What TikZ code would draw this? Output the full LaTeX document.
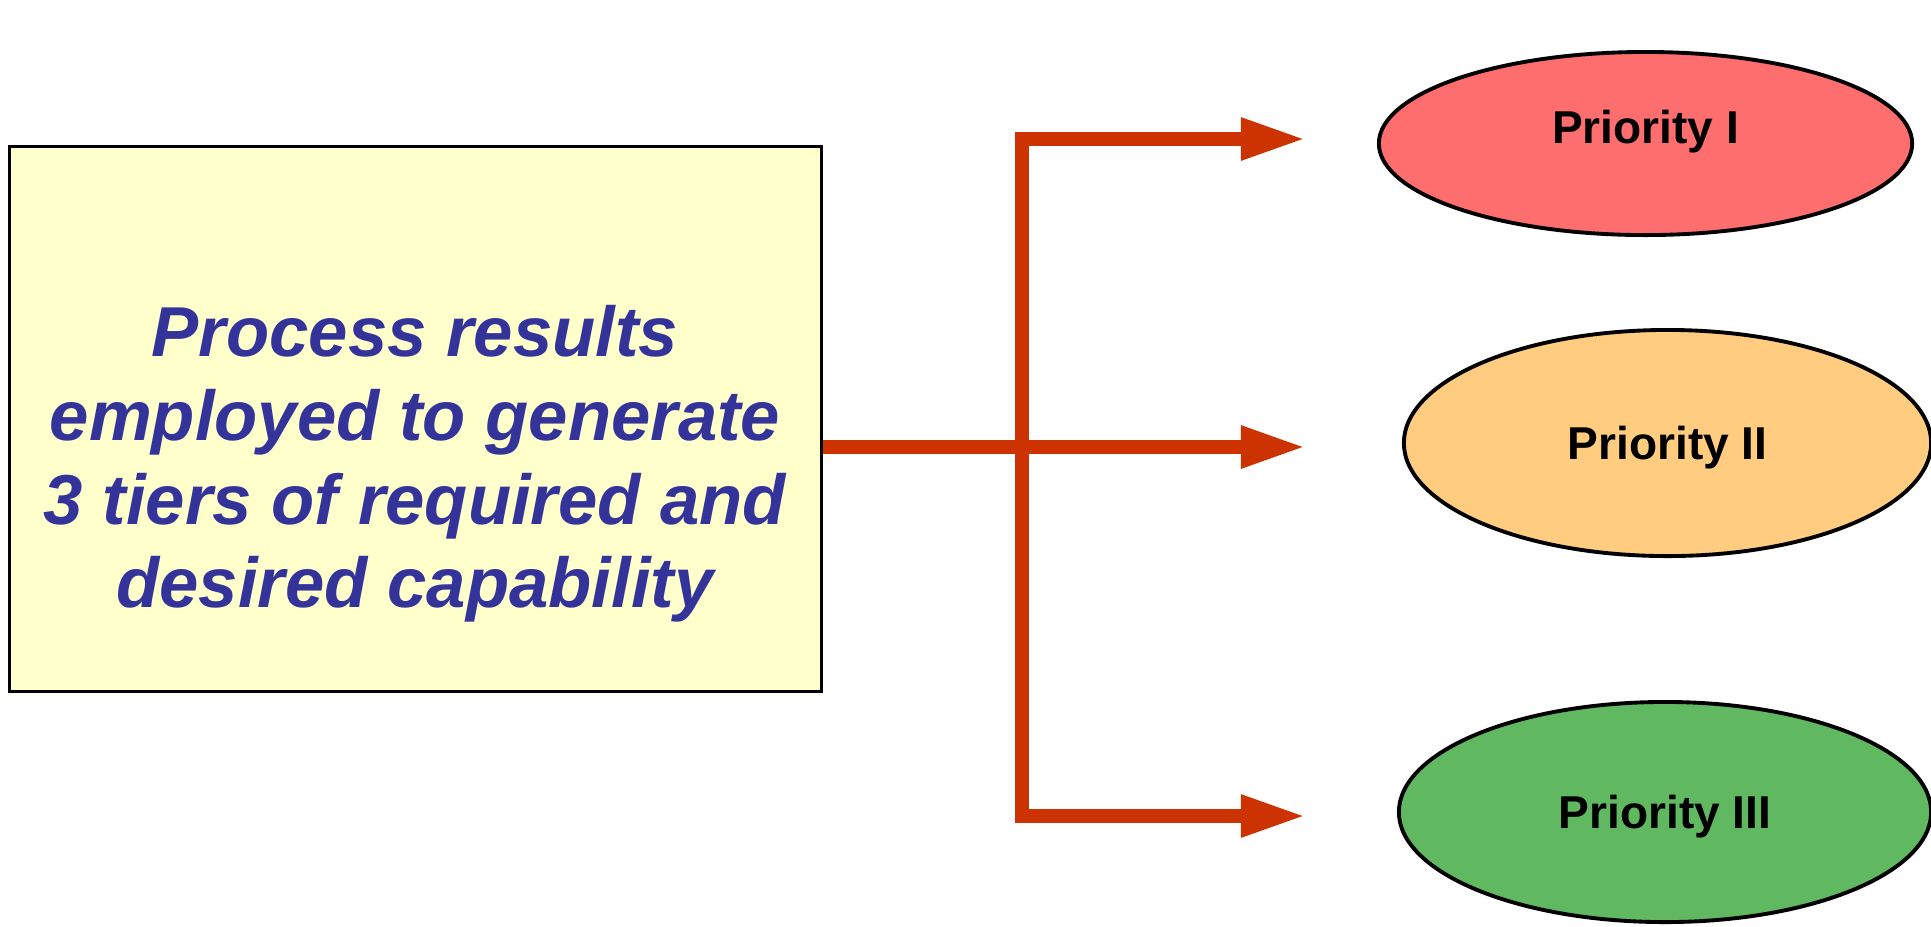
\documentclass[tikz,border=0pt]{standalone}
\usepackage{fontspec}
\setmainfont{Liberation Sans}
\usetikzlibrary{shapes.geometric, arrows.meta, calc}
\definecolor{procyellow}{HTML}{FFFFCC}
\definecolor{procblue}{HTML}{333399}
\definecolor{flowred}{HTML}{CC3300}
\definecolor{priored}{HTML}{FF6E6E}
\definecolor{prioorange}{HTML}{FFCC80}
\definecolor{priogreen}{HTML}{60B860}

\begin{document}
\begin{tikzpicture}[x=0.01cm, y=-0.01cm,
    procbox/.style={draw, line width=0.9pt, fill=procyellow, minimum width=8.11cm, minimum height=5.44cm, inner sep=0pt},
    proctext/.style={text=procblue, align=center, font=\fontsize{20.1}{23.8}\selectfont\bfseries\itshape},
    prio/.style={ellipse, draw, line width=1.1pt, inner sep=0pt, text depth=0pt, font=\fontsize{13.1}{15}\selectfont\bfseries},
    flow/.style={draw=flowred, line width=4pt, line join=miter},
    flowtip/.style={-{Triangle[length=6.5mm, width=3.9mm]}}]
    \useasboundingbox (0,0) rectangle (1931,926);

    %riquadro a sinistra
    \node[procbox] (proc) at (415.5,419) {};
    \node[proctext] (proctxt) at (415,464) {Process results\\employed to generate\\3 tiers of required and\\desired capability};

    %ellissi delle priorita
    \node[prio, fill=priored, minimum width=5.33cm, minimum height=1.83cm, text depth=0.34cm] (prioI) at (1645.5,143.5) {Priority I};
    \node[prio, fill=prioorange, minimum width=5.27cm, minimum height=2.26cm] (prioII) at (1667.5,443) {Priority II};
    \node[prio, fill=priogreen, minimum width=5.32cm, minimum height=2.20cm] (prioIII) at (1665,812) {Priority III};

    %punti della diramazione
    \coordinate (hub) at (1022,447);
    \coordinate (tipI) at (1306,139);
    \coordinate (tipII) at (1306,447);
    \coordinate (tipIII) at (1306,816);

    %frecce rosse
    \draw[flow] (hub -| proc.east) -- (hub);
    \draw[flow, {Triangle[length=6.5mm, width=3.9mm]}-{Triangle[length=6.5mm, width=3.9mm]}] (tipI) -| (hub) |- (tipIII);
    \draw[flow, flowtip] (hub) -- (tipII);
\end{tikzpicture}
\end{document}
